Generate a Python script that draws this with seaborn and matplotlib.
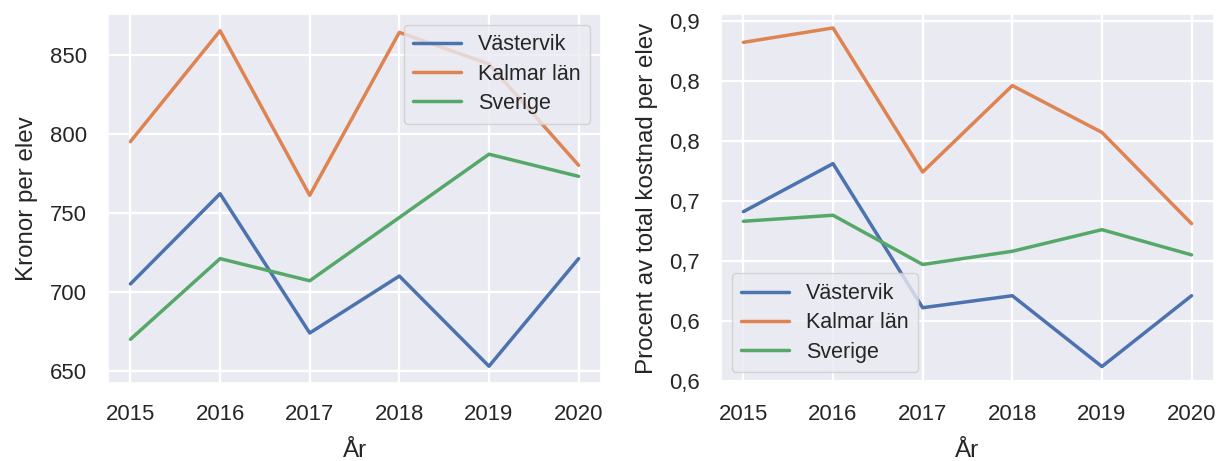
import seaborn as sns
import pandas as pd
import matplotlib
matplotlib.use("Agg")
import matplotlib.pyplot as plt

years = [2015, 2016, 2017, 2018, 2019, 2020]
series_names = ["Västervik", "Kalmar län", "Sverige"]

# kronor per elev
kr_vastervik = [705, 762, 674, 710, 653, 721]
kr_kalmar = [795, 865, 761, 864, 844, 780]
kr_sverige = [670, 721, 707, 747, 787, 773]

# andel av total kostnad per elev
pct_vastervik = [0.741, 0.781, 0.661, 0.671, 0.612, 0.671]
pct_kalmar = [0.882, 0.894, 0.774, 0.846, 0.807, 0.731]
pct_sverige = [0.733, 0.738, 0.697, 0.708, 0.726, 0.705]

pct_ticks = [0.60, 0.65, 0.70, 0.75, 0.80, 0.85, 0.90]
pct_tick_labels = ["0,6", "0,6", "0,7", "0,7", "0,8", "0,8", "0,9"]


def long_df(values):
  rows = []
  for name, vals in zip(series_names, values):
    for y, v in zip(years, vals):
      rows.append({"År": y, "värde": v, "serie": name})
  return pd.DataFrame(rows)


sns.set_theme(style="darkgrid", font_scale=1.45,
  rc={"grid.linewidth": 1.6, "xtick.major.pad": 9, "ytick.major.pad": 9})
plt.rcParams['font.family'] = ['Liberation Sans', 'DejaVu Sans']

fig, ax = plt.subplots(1, 2, figsize=(12.18, 4.61), dpi=100)
fig.subplots_adjust(left=0.0887, right=0.9967, top=0.9696, bottom=0.1692,
  wspace=0.2434)

legend_kw = dict(title=None, fontsize=15.5, labelspacing=0.38, handlelength=2.2,
  borderpad=0.45)

kr_df = long_df([kr_vastervik, kr_kalmar, kr_sverige])
sns.lineplot(data=kr_df, x="År", y="värde", hue="serie", hue_order=series_names,
  linewidth=2.5, ax=ax[0])
ax[0].set_ylabel("Kronor per elev", labelpad=9)
ax[0].set_xlabel("År", labelpad=11)
ax[0].set_xticks(years)
ax[0].legend(loc="upper right", **legend_kw)

pct_df = long_df([pct_vastervik, pct_kalmar, pct_sverige])
sns.lineplot(data=pct_df, x="År", y="värde", hue="serie", hue_order=series_names,
  linewidth=2.5, ax=ax[1])
ax[1].set_ylabel("Procent av total kostnad per elev", labelpad=8)
ax[1].set_xlabel("År", labelpad=11)
ax[1].set_xticks(years)
ax[1].set_yticks(pct_ticks)
ax[1].set_yticklabels(pct_tick_labels)
ax[1].set_ylim(0.5983, 0.9056)
ax[1].legend(loc="lower left", **legend_kw)

plt.savefig("out.png", dpi=100)
